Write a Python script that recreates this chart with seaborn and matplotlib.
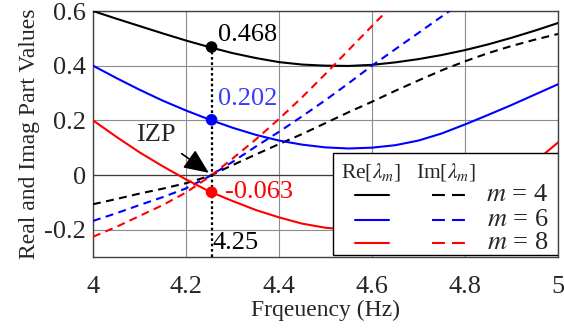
import numpy as np
import pandas as pd
import matplotlib
matplotlib.use("Agg")
import matplotlib.pyplot as plt
import seaborn as sns
from matplotlib.patches import Rectangle
from matplotlib.lines import Line2D

# ---------------- data ----------------
freq = [4.00, 4.05, 4.10, 4.15, 4.20, 4.25, 4.30, 4.35, 4.40, 4.45, 4.50,
        4.55, 4.60, 4.65, 4.70, 4.75, 4.80, 4.85, 4.90, 4.95, 5.00]

re_m4 = [0.600, 0.572, 0.545, 0.518, 0.492, 0.468, 0.446, 0.428, 0.413, 0.404, 0.400,
         0.399, 0.403, 0.412, 0.424, 0.439, 0.457, 0.478, 0.502, 0.528, 0.556]
re_m6 = [0.400, 0.355, 0.312, 0.272, 0.236, 0.203, 0.173, 0.147, 0.126, 0.111, 0.101,
         0.097, 0.100, 0.109, 0.126, 0.152, 0.185, 0.220, 0.256, 0.294, 0.332]
re_m8 = [0.200, 0.140, 0.083, 0.032, -0.016, -0.060, -0.095, -0.128, -0.155, -0.178, -0.193,
         -0.200, -0.199, -0.191, -0.174, -0.148, -0.112, -0.068, -0.015, 0.048, 0.119]

im_m4 = [-0.107, -0.088, -0.068, -0.050, -0.030, -0.004, 0.036, 0.075, 0.113, 0.150, 0.190,
         0.230, 0.268, 0.308, 0.346, 0.383, 0.416, 0.446, 0.472, 0.495, 0.516]
im_m6 = [-0.168, -0.140, -0.110, -0.081, -0.049, -0.005, 0.048, 0.104, 0.158, 0.215, 0.274,
         0.336, 0.400, 0.460, 0.520, 0.580, 0.640, np.nan, np.nan, np.nan, np.nan]
im_m8 = [-0.226, -0.190, -0.150, -0.110, -0.064, -0.007, 0.060, 0.130, 0.205, 0.285, 0.370,
         0.458, 0.545, 0.632, np.nan, np.nan, np.nan, np.nan, np.nan, np.nan, np.nan]

izp_freq = 4.255
izp_label = "4.25"
izp_values = [0.468, 0.202, -0.063]
izp_texts = ["0.468", "0.202", "-0.063"]

modes = [4, 6, 8]
colors = ["black", "#0000ff", "#ff0000"]
text_colors = ["black", "#3a3aff", "#ff0000"]

# ---------------- style ----------------
sns.set_style("white")
plt.rcParams["font.family"] = ["Liberation Serif", "DejaVu Serif"]
plt.rcParams["mathtext.fontset"] = "stix"

fig = plt.figure(figsize=(5.64, 3.28), dpi=100)
ax = fig.add_axes([93 / 564, 1 - 257 / 328, 465 / 564, 246 / 328])

re_series = [re_m4, re_m6, re_m8]
im_series = [im_m4, im_m6, im_m8]

for m, c, re_v, im_v in zip(modes, colors, re_series, im_series):
    d_re = pd.DataFrame({"f": freq, "v": re_v}).dropna()
    d_im = pd.DataFrame({"f": freq, "v": im_v}).dropna()
    sns.lineplot(data=d_re, x="f", y="v", ax=ax, color=c, lw=1.5, zorder=3)
    sns.lineplot(data=d_im, x="f", y="v", ax=ax, color=c, lw=1.5,
                 linestyle=(0, (3.8, 2.6)), zorder=3)

# vertical dotted line at the IZP frequency
ax.plot([izp_freq, izp_freq], [-0.3, izp_values[0]], color="black", lw=1.6,
        linestyle=(0, (1.2, 1.2)), zorder=4)

pts = pd.DataFrame({"f": [izp_freq] * 3, "v": izp_values, "c": colors})
sns.scatterplot(data=pts, x="f", y="v", hue="c", palette=dict(zip(colors, colors)),
                s=70, edgecolor="none", legend=False, ax=ax, zorder=5)

fs = 19
ax.text(4.268, 0.512, izp_texts[0], color=text_colors[0], fontsize=fs, va="center", ha="left")
ax.text(4.268, 0.277, izp_texts[1], color=text_colors[1], fontsize=fs, va="center", ha="left")
ax.text(4.284, -0.061, izp_texts[2], color=text_colors[2], fontsize=fs, va="center", ha="left")
ax.text(izp_freq + 0.002, -0.250, izp_label, color="black", fontsize=fs, va="center", ha="left")

ax.annotate("IZP", xy=(4.249, 0.008), xytext=(4.135, 0.145), fontsize=fs,
            ha="center", va="center", zorder=6,
            arrowprops=dict(arrowstyle="-|>,head_length=0.8,head_width=0.35",
                            color="black", lw=1.2, shrinkA=5, shrinkB=0))

# axes
ax.set_xlim(4, 5)
ax.set_ylim(-0.3, 0.6)
ax.set_xticks([4, 4.2, 4.4, 4.6, 4.8, 5])
ax.set_xticklabels(["4", "4.2", "4.4", "4.6", "4.8", "5"])
ax.set_yticks([-0.2, 0, 0.2, 0.4, 0.6])
ax.set_yticklabels(["-0.2", "0", "0.2", "0.4", "0.6"])
ax.tick_params(axis="x", labelsize=fs, length=0, pad=14)
ax.tick_params(axis="y", labelsize=fs, length=0, pad=5)
ax.grid(True, color="#8c8c8c", lw=0.8)
ax.axhline(0, color="#3c3c3c", lw=0.9, zorder=2)
for s in ax.spines.values():
    s.set_color("#404040")
    s.set_linewidth(1.0)
ax.set_xlabel("Frqeuency (Hz)", fontsize=17, labelpad=1)
ax.set_ylabel("Real and Imag Part Values", fontsize=17, labelpad=3)

# manual legend
def fx(px):
    return (px - 93) / 465

def fy(py):
    return (257 - py) / 246

tr = ax.transAxes
ax.add_patch(Rectangle((fx(333), fy(255)), fx(558) - fx(333), fy(153) - fy(255),
                       transform=tr, facecolor="white", edgecolor="black", lw=1.0, zorder=10))
ax.text(fx(341), fy(172), r"Re[$\lambda_m$]", transform=tr, fontsize=15.5, va="center",
        ha="left", zorder=11)
ax.text(fx(416), fy(172), r"Im[$\lambda_m$]", transform=tr, fontsize=15.5, va="center",
        ha="left", zorder=11)
for m, c, py in zip(modes, colors, [195, 220, 243]):
    ax.add_line(Line2D([fx(355), fx(389)], [fy(py), fy(py)], transform=tr, color=c,
                       lw=1.5, zorder=11))
    ax.add_line(Line2D([fx(432), fx(466)], [fy(py), fy(py)], transform=tr, color=c,
                       lw=1.5, linestyle=(0, (6.2, 3.4)), zorder=11))
    ax.text(fx(548), fy(py), rf"$m$ = {m}", transform=tr, fontsize=19, va="center",
            ha="right", zorder=11)

fig.savefig("out.png", dpi=100)
